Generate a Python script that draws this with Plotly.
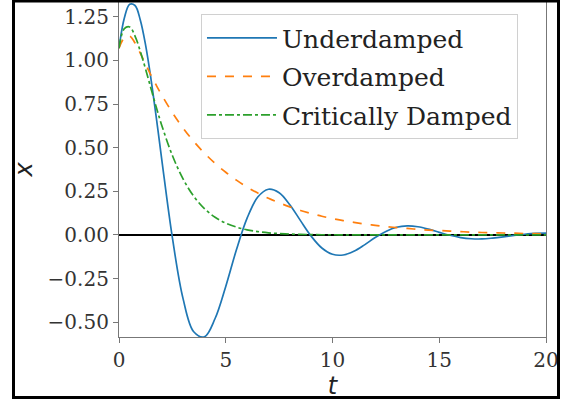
import plotly.graph_objects as go

t = [0, 0.25, 0.5, 0.75, 1.0, 1.25, 1.5, 1.75, 2.0, 2.5, 3.0, 3.5, 4.0, 4.5, 5.0, 5.5,
     6.0, 6.5, 7.0, 7.5, 8.0, 8.5, 9.0, 9.5, 10.0, 10.5, 11.0, 11.5, 12.0, 12.5,
     13.0, 13.5, 14.0, 14.5, 15.0, 15.5, 16.0, 16.5, 17.0, 17.5, 18.0, 18.5, 19.0,
     19.5, 20.0]

underdamped = [1.070, 1.243, 1.322, 1.315, 1.231, 1.085, 0.892, 0.670, 0.435, -0.016,
               -0.365, -0.555, -0.584, -0.479, -0.295, -0.085, 0.096, 0.217, 0.262,
               0.242, 0.173, 0.082, -0.007, -0.075, -0.111, -0.115, -0.094, -0.057,
               -0.015, 0.020, 0.044, 0.052, 0.047, 0.033, 0.015, -0.002, -0.015,
               -0.022, -0.023, -0.018, -0.011, -0.003, 0.004, 0.009, 0.010]

overdamped = [1.070, 1.130, 1.140, 1.100, 1.041, 0.977, 0.915, 0.857, 0.802, 0.701,
              0.613, 0.536, 0.469, 0.410, 0.359, 0.314, 0.274, 0.240, 0.210, 0.184,
              0.161, 0.140, 0.123, 0.107, 0.094, 0.082, 0.072, 0.063, 0.055, 0.048,
              0.042, 0.037, 0.032, 0.028, 0.025, 0.022, 0.019, 0.016, 0.014, 0.013,
              0.011, 0.010, 0.008, 0.007, 0.006]

critical = [1.070, 1.182, 1.192, 1.140, 1.052, 0.948, 0.838, 0.730, 0.629, 0.455,
            0.321, 0.222, 0.151, 0.101, 0.068, 0.045, 0.029, 0.019, 0.012, 0.008,
            0.005, 0.003, 0.002, 0.001, 0.001, 0.0005, 0.0003, 0.0002, 0.0001, 0.0,
            0.0, 0.0, 0.0, 0.0, 0.0, 0.0, 0.0, 0.0, 0.0, 0.0, 0.0, 0.0, 0.0, 0.0, 0.0]

names = ["Underdamped", "Overdamped", "Critically Damped"]
colors = ["#1f77b4", "#ff7f0e", "#2ca02c"]
dashes = ["solid", "dash", "dashdot"]

x_ticks = [0, 5, 10, 15, 20]
y_ticks = [-0.5, -0.25, 0.0, 0.25, 0.5, 0.75, 1.0, 1.25]
y_tick_text = ["\u22120.50", "\u22120.25", "0.00", "0.25", "0.50", "0.75", "1.00", "1.25"]

fig = go.Figure()
for name, ys, c, d in zip(names, [underdamped, overdamped, critical], colors, dashes):
    fig.add_trace(go.Scatter(
        x=t, y=ys, mode="lines", name=name, legendgroup=name,
        line=dict(color=c, dash=d, width=1.7, shape="spline", smoothing=1.0),
    ))

serif = "DejaVu Serif"
fig.update_layout(
    width=561, height=400,
    margin=dict(l=119, r=15, t=2, b=63),
    paper_bgcolor="white", plot_bgcolor="white",
    showlegend=True,
    legend=dict(
        x=0.192, y=0.964, xanchor="left", yanchor="top",
        font=dict(family=serif, size=25, color="#222"),
        bgcolor="rgba(255,255,255,0.8)", bordercolor="#d0d0d0", borderwidth=1,
        tracegroupgap=3, itemwidth=70,
    ),
    xaxis=dict(
        range=[0, 20], tickvals=x_ticks, ticks="outside", ticklen=5, tickcolor="#777",
        showgrid=False, zeroline=False, showline=True, linecolor="#777", linewidth=1.2,
        mirror=True,
        tickfont=dict(family=serif, size=20, color="#333"),
        title=dict(text="<i>t</i>", font=dict(family="DejaVu Sans", size=24, color="#222"),
                   standoff=0),
    ),
    yaxis=dict(
        range=[-0.585, 1.335], tickvals=y_ticks, ticktext=y_tick_text, ticks="outside",
        ticklen=5, tickcolor="#777",
        showgrid=False, zeroline=True, zerolinecolor="black", zerolinewidth=1.5,
        showline=True, linecolor="#777", linewidth=1.2, mirror=True,
        tickfont=dict(family=serif, size=20, color="#333"),
        title=dict(text="<i>x</i>", font=dict(family="DejaVu Sans", size=24, color="#222"),
                   standoff=8),
    ),
)

# outer black frame of the picture
fig.add_shape(type="rect", xref="paper", yref="paper",
              x0=(13.5 - 119) / 427, x1=(558.5 - 119) / 427,
              y0=(337 - 397.5) / 335, y1=(337 - 1) / 335,
              line=dict(color="black", width=3), fillcolor="rgba(0,0,0,0)", layer="above")

fig.write_html(
    "out.html",
    config={"displayModeBar": False},
    post_script="document.body.style.margin='0';document.body.style.overflow='hidden';",
)
